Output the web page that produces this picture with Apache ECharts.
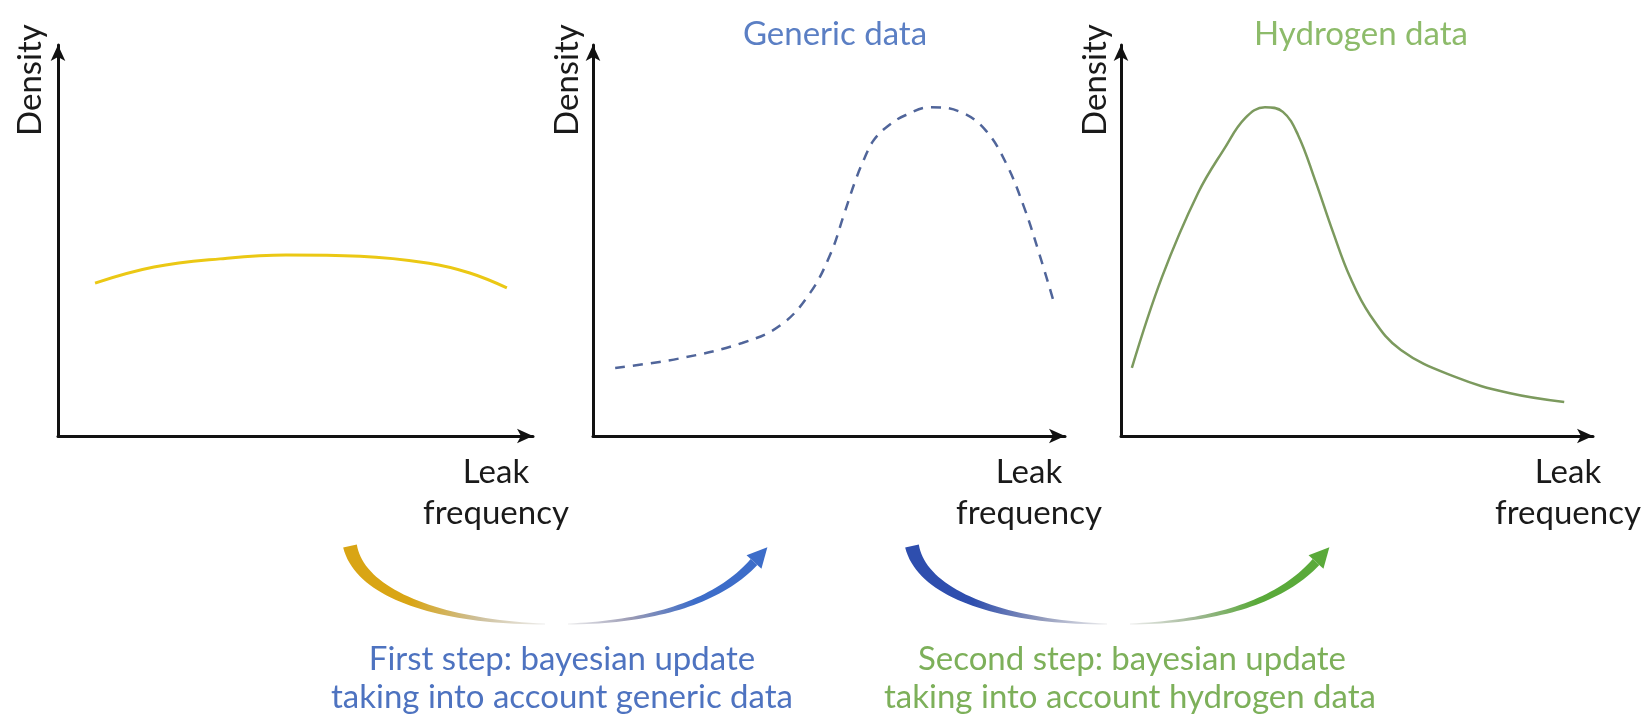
<!DOCTYPE html>
<html>
<head>
<meta charset="utf-8">
<title>Bayesian update of leak frequency</title>
<script src="https://cdn.jsdelivr.net/npm/echarts@6/dist/echarts.min.js"></script>
<style>
  html, body { margin: 0; padding: 0; background: #fff; }
  #chart { width: 1643px; height: 726px; }
</style>
</head>
<body>
<div id="chart"></div>
<script>
// 数据：三个面板的密度曲线（读自原图，坐标轴 0-10）
const priorX = [0.78, 2.02, 3.41, 4.8, 6.36, 7.81, 8.67, 9.45]
const priorY = [3.91, 4.32, 4.53, 4.63, 4.6, 4.42, 4.17, 3.79]

const genericX = [0.47, 1.86, 3.16, 3.98, 4.6, 5.04, 5.3, 5.55, 5.75, 5.95, 6.27, 6.63, 7.16, 7.78, 8.31, 8.75, 9.13, 9.45, 9.75]
const genericY = [1.74, 1.99, 2.38, 2.84, 3.66, 4.68, 5.6, 6.5, 7.1, 7.57, 7.95, 8.21, 8.41, 8.29, 7.83, 6.98, 5.86, 4.68, 3.48]

const hydrogenX = [0.23, 0.87, 1.63, 2.2, 2.63, 3.05, 3.43, 3.75, 4.11, 4.49, 4.85, 5.28, 5.93, 7.08, 8.22, 9.39]
const hydrogenY = [1.74, 4.07, 6.21, 7.37, 8.13, 8.41, 8.29, 7.7, 6.55, 5.22, 4.07, 3.09, 2.2, 1.51, 1.1, 0.87]

// 文本
const panelTitles = ['', 'Generic data', 'Hydrogen data']
const yAxisName = 'Density'
const xAxisName = ['Leak', 'frequency']
const stepTexts = [
  ['First step: bayesian update', 'taking into account generic data'],
  ['Second step: bayesian update', 'taking into account hydrogen data']
]

const FONT = 'Lato'
const zip = (xs, ys) => xs.map((x, i) => [x, ys[i]])

const chart = echarts.init(document.getElementById('chart'))

// 三个面板的位置
const panels = [
  { left: 58, width: 475 },
  { left: 593, width: 472 },
  { left: 1121, width: 472 }
]
const TOP = 45
const HEIGHT = 391

const makeAxis = (idx) => ({
  type: 'value',
  gridIndex: idx,
  min: 0,
  max: 10,
  axisLine: {
    show: true,
    onZero: false,
    symbol: ['none', 'arrow'],
    symbolSize: [11, 16],
    lineStyle: { color: '#111', width: 3 }
  },
  axisTick: { show: false },
  axisLabel: { show: false },
  splitLine: { show: false }
})

// 弯曲的渐变箭头（装饰）
const cubic = (p0, c1, c2, p3, t) => {
  const u = 1 - t
  return [
    u * u * u * p0[0] + 3 * u * u * t * c1[0] + 3 * u * t * t * c2[0] + t * t * t * p3[0],
    u * u * u * p0[1] + 3 * u * u * t * c1[1] + 3 * u * t * t * c2[1] + t * t * t * p3[1]
  ]
}
const taper = (p0, c1, c2, p3, w0, w1) => {
  const n = 40
  const upper = []
  const lower = []
  for (let i = 0; i <= n; i++) {
    const t = i / n
    const p = cubic(p0, c1, c2, p3, t)
    const q = cubic(p0, c1, c2, p3, Math.min(1, t + 0.01))
    const r = cubic(p0, c1, c2, p3, Math.max(0, t - 0.01))
    let dx = q[0] - r[0]
    let dy = q[1] - r[1]
    const len = Math.sqrt(dx * dx + dy * dy) || 1
    dx /= len
    dy /= len
    const w = (w0 + (w1 - w0) * t) / 2
    upper.push([p[0] - dy * w, p[1] + dx * w])
    lower.push([p[0] + dy * w, p[1] - dx * w])
  }
  return upper.concat(lower.reverse())
}
const grad = (stops) => ({
  type: 'linear', x: 0, y: 0, x2: 1, y2: 0,
  colorStops: stops.map((c, i) => ({ offset: i / (stops.length - 1), color: c }))
})
const bentArrow = (dx, fromColor, fromMid, toMid, toColor) => {
  const s = (p) => [p[0] + dx, p[1]]
  const a0 = s([350, 546]), a1 = s([360, 594]), a2 = s([440, 622]), a3 = s([545, 624])
  const b0 = s([568, 624]), b1 = s([652, 622]), b2 = s([718, 602]), b3 = s([754, 562])
  let ux = b3[0] - b2[0]
  let uy = b3[1] - b2[1]
  const l = Math.sqrt(ux * ux + uy * uy)
  ux /= l
  uy /= l
  const tip = [b3[0] + ux * 20, b3[1] + uy * 20]
  const head = [
    tip,
    [b3[0] - uy * 10, b3[1] + ux * 10],
    [b3[0] + uy * 10, b3[1] - ux * 10]
  ]
  return [
    { type: 'polygon', shape: { points: taper(a0, a1, a2, a3, 14, 1) },
      style: { fill: grad([fromColor, fromColor, fromMid, '#eeeeee']) } },
    { type: 'polygon', shape: { points: taper(b0, b1, b2, b3, 1, 9) },
      style: { fill: grad(['#eeeeee', toMid, toColor, toColor]) } },
    { type: 'polygon', shape: { points: head }, style: { fill: toColor } }
  ]
}

const textEl = (x, y, text, size, color, extra) => Object.assign({
  type: 'text',
  x: x,
  y: y,
  style: {
    text: text,
    font: size + 'px ' + FONT,
    fill: color,
    align: 'center',
    verticalAlign: 'middle'
  }
}, extra || {})

const graphics = []
// Density / Leak frequency 标签
const densityX = [30, 567, 1095]
const leakX = [496, 1029, 1568]
densityX.forEach((x) => {
  graphics.push(textEl(x, 80, yAxisName, 33, '#1a1a1a', { rotation: Math.PI / 2 }))
})
leakX.forEach((x) => {
  graphics.push(textEl(x, 472, xAxisName[0], 33, '#1a1a1a'))
  graphics.push(textEl(x, 513, xAxisName[1], 33, '#1a1a1a'))
})
// 底部箭头与说明
graphics.push(...bentArrow(0, '#d9a514', '#cdbf9a', '#9a9ab4', '#3d6dc9'))
graphics.push(...bentArrow(562, '#2e4eae', '#8f98bb', '#a3b898', '#5aaa3a'))
graphics.push(textEl(562, 659, stepTexts[0][0], 33, '#4e73c0'))
graphics.push(textEl(562, 697, stepTexts[0][1], 33, '#4e73c0'))
graphics.push(textEl(1132, 659, stepTexts[1][0], 33, '#7db05a'))
graphics.push(textEl(1130, 697, stepTexts[1][1], 33, '#7db05a'))

const lineSeries = (name, idx, xs, ys, lineStyle) => ({
  name: name,
  type: 'line',
  xAxisIndex: idx,
  yAxisIndex: idx,
  smooth: 0.4,
  showSymbol: false,
  data: zip(xs, ys),
  lineStyle: lineStyle
})

const option = {
  backgroundColor: '#fff',
  animation: false,
  title: [
    { text: panelTitles[1], left: 830, top: 13, textAlign: 'center',
      textStyle: { fontFamily: FONT, fontSize: 33, fontWeight: 'normal', color: '#5b7fc4' } },
    { text: panelTitles[2], left: 1356, top: 13, textAlign: 'center',
      textStyle: { fontFamily: FONT, fontSize: 33, fontWeight: 'normal', color: '#8dbb6a' } }
  ],
  grid: panels.map((p) => ({ left: p.left, top: TOP, width: p.width, height: HEIGHT })),
  xAxis: panels.map((p, i) => makeAxis(i)),
  yAxis: panels.map((p, i) => makeAxis(i)),
  series: [
    lineSeries('Prior', 0, priorX, priorY, { color: '#ebc814', width: 3 }),
    lineSeries('Generic data', 1, genericX, genericY, { color: '#50659a', width: 2.5, type: [10, 8] }),
    lineSeries('Hydrogen data', 2, hydrogenX, hydrogenY, { color: '#7c9a5e', width: 2.5 })
  ],
  graphic: graphics
}

chart.setOption(option)
</script>
</body>
</html>
